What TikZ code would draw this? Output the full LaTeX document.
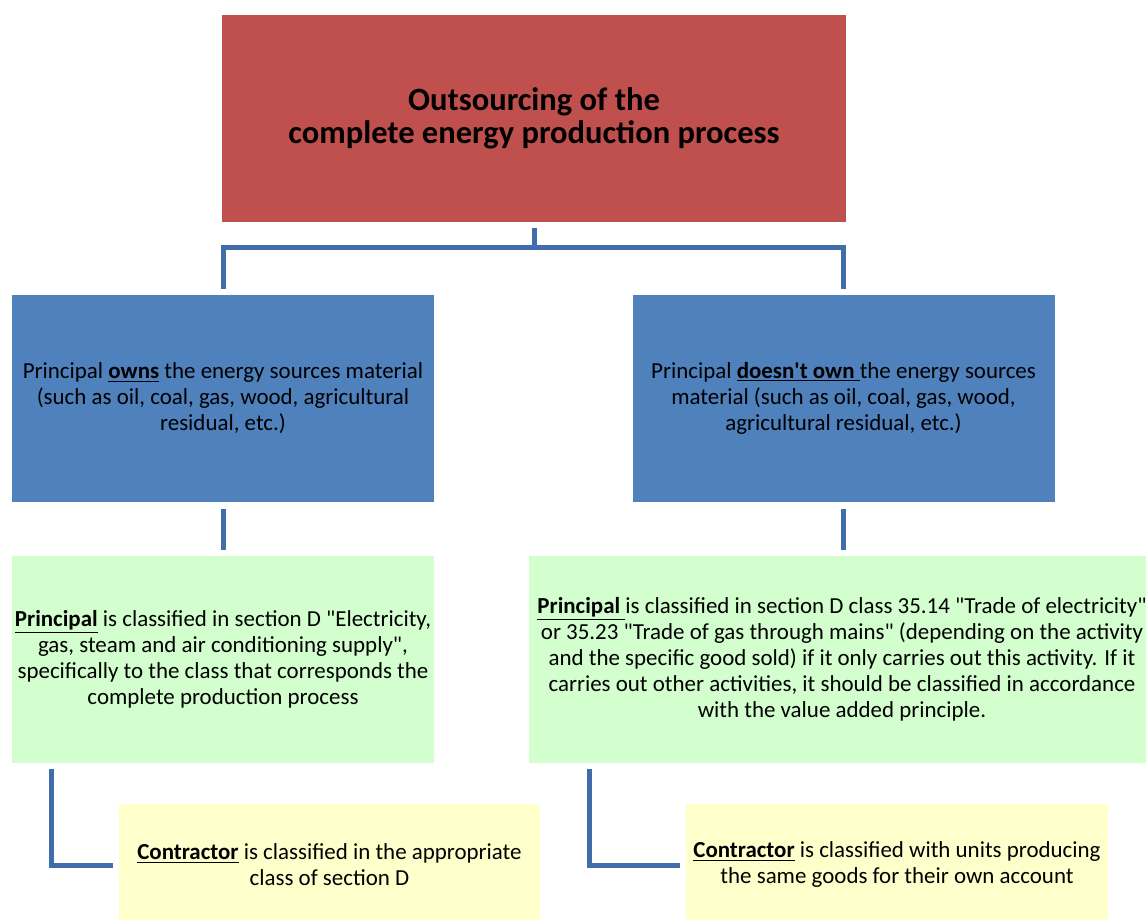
\documentclass[tikz,border=0pt]{standalone}
\usepackage{fontspec}
\setmainfont{Carlito}

\tikzset{every picture/.style={line width=0.75pt}}
\tikzset{
	connector/.style={draw={rgb, 255:red, 65; green, 110; blue, 170 }, line width=3.75pt},
	box text/.style={inner sep=0.75pt, align=center, font=\fontsize{17.2}{19.5}\selectfont},
	wide box/.style={minimum width=316.5pt, minimum height=155.25pt}}

\begin{document}
\begin{tikzpicture}[x=0.75pt,y=0.75pt,yscale=-1,xscale=1]
	\useasboundingbox (0,0) rectangle (1146,920);
	\clip (0,0) rectangle (1146,920);
	
	%Shape: Rectangle (title)
	\node [fill={rgb, 255:red, 192; green, 80; blue, 77 }, minimum width=468pt, minimum height=155.25pt, inner sep=0.75pt, align=center, font=\bfseries\fontsize{24.4}{24.75}\selectfont] (title) at (534,118.5) {Outsourcing of the\\complete energy production process};
	
	%Shape: Rectangle (owns)
	\node [fill={rgb, 255:red, 79; green, 129; blue, 189 }, wide box, box text] (owns) at (223,398.5) {Principal \underline{\textbf{owns}} the energy sources material\\(such as oil, coal, gas, wood, agricultural\\residual, etc.)};
	%Shape: Rectangle (does not own)
	\node [fill={rgb, 255:red, 79; green, 129; blue, 189 }, wide box, box text] (notowns) at (843.5,398.5) {Principal \underline{\textbf{doesn\textquotesingle t own\ }}the energy sources\\material (such as oil, coal, gas, wood,\\agricultural residual, etc.)};
	
	%Shape: Rectangle (principal, owns)
	\node [fill={rgb, 255:red, 211; green, 255; blue, 206 }, wide box, box text] (ownsclass) at (223,659.5) {\underline{\textbf{Principal}} is classified in section D \textquotedbl Electricity,\\gas, steam and air conditioning supply\textquotedbl ,\\specifically to the class that corresponds the\\complete production process};
	%Shape: Rectangle (principal, does not own)
	\node [fill={rgb, 255:red, 211; green, 255; blue, 206 }, minimum width=469.5pt, minimum height=155.25pt, box text] (notownsclass) at (842,659.5) {\underline{\textbf{Principal\ }}is classified in section D class 35.14 \textquotedbl Trade of electricity\textquotedbl\\or 35.23 \textquotedbl Trade of gas through mains\textquotedbl\ (depending on the activity\\and the specific good sold) if it only carries out this activity. If it\\carries out other activities, it should be classified in accordance\\with the value added principle.};
	
	%Shape: Rectangle (contractor, owns)
	\node [fill={rgb, 255:red, 255; green, 255; blue, 204 }, minimum width=315.75pt, minimum height=91.5pt, box text] (ownscontr) at (329.5,865) {\underline{\textbf{Contractor}} is classified in the appropriate\\class of section D};
	%Shape: Rectangle (contractor, does not own)
	\node [fill={rgb, 255:red, 255; green, 255; blue, 204 }, minimum width=316.5pt, minimum height=91.5pt, box text] (notownscontr) at (897,865) {\underline{\textbf{Contractor}} is classified with units producing\\the same goods for their own account};
	
	%Straight Lines
	\path (title.south) ++(0,25) coordinate (split);
	\draw [connector, shorten <=4.5pt] (title.south) -- (split);
	\draw [connector, shorten >=4.5pt] (split) -| (owns.north);
	\draw [connector, shorten >=4.5pt] (split) -| (notowns.north);
	%Straight Lines
	\draw [connector, shorten <=4.5pt, shorten >=4.5pt] (owns.south) -- (ownsclass.north);
	\draw [connector, shorten <=4.5pt, shorten >=4.5pt] (notowns.south) -- (notowns.south |- notownsclass.north);
	%Straight Lines
	\draw [connector, shorten <=3.75pt, shorten >=4.5pt] ([xshift=30pt]ownsclass.south west) |- (ownscontr.west);
	\draw [connector, shorten <=3.75pt, shorten >=4.5pt] ([xshift=45.75pt]notownsclass.south west) |- (notownscontr.west);
	
\end{tikzpicture}
\end{document}
